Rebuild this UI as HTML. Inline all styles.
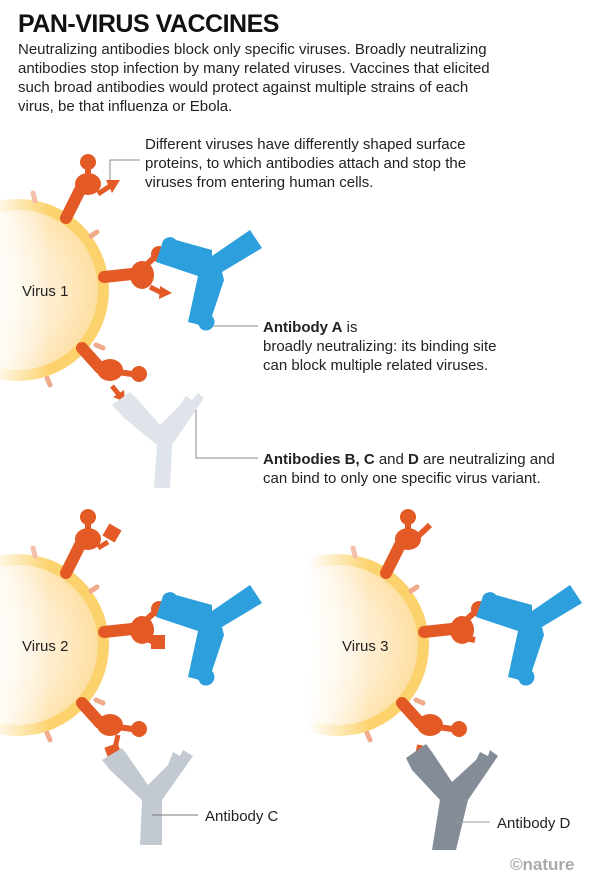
<!DOCTYPE html>
<html><head><meta charset="utf-8"><style>
html,body{margin:0;padding:0;background:#fff;}
svg{display:block;font-family:"Liberation Sans",sans-serif;}
</style></head><body>
<svg width="600" height="883" viewBox="0 0 600 883" xmlns="http://www.w3.org/2000/svg">
<defs>
<radialGradient id="vg" cx="0.3" cy="0.5" r="0.75">
<stop offset="0" stop-color="#fffaf0"/><stop offset="0.6" stop-color="#feeccb"/><stop offset="1" stop-color="#fddc98"/>
</radialGradient>
<linearGradient id="fadeG" gradientUnits="userSpaceOnUse" x1="-12" y1="0" x2="50" y2="0">
<stop offset="0" stop-color="#000"/><stop offset="1" stop-color="#fff"/>
</linearGradient>
<mask id="fade" maskUnits="userSpaceOnUse" x="-100" y="-150" width="300" height="300">
<rect x="-100" y="-150" width="300" height="300" fill="url(#fadeG)"/>
</mask>
<g id="virus">
<g mask="url(#fade)">
<circle cx="18" cy="0" r="91" fill="#fcd26c"/>
<circle cx="18" cy="0" r="80" fill="url(#vg)"/>
<g stroke="#f0a98a" stroke-width="5" stroke-linecap="round">
<line x1="33" y1="-97" x2="35" y2="-89"/>
<line x1="91" y1="-54" x2="97" y2="-58"/>
<line x1="96" y1="55" x2="103" y2="58"/>
<line x1="47" y1="88" x2="50" y2="95"/>
</g>
</g>
<g fill="#e35a27" stroke="#e35a27" stroke-linecap="round">
<line x1="66" y1="-72" x2="80" y2="-100" stroke-width="12"/>
<ellipse cx="88" cy="-106" rx="13" ry="11" stroke="none"/>
<line x1="88" y1="-112" x2="88" y2="-125" stroke-width="6"/>
<circle cx="88" cy="-128" r="8" stroke="none"/>
<line x1="104" y1="-13" x2="132" y2="-16" stroke-width="12"/>
<ellipse cx="142" cy="-15" rx="12" ry="14" stroke="none"/>
<line x1="146" y1="-25" x2="155" y2="-33" stroke-width="6"/>
<circle cx="159" cy="-36" r="8" stroke="none"/>
<line x1="82" y1="58" x2="100" y2="78" stroke-width="12"/>
<ellipse cx="110" cy="80" rx="13" ry="11" stroke="none"/>
<line x1="118" y1="82" x2="132" y2="84" stroke-width="6"/>
<circle cx="139" cy="84" r="8" stroke="none"/>
</g>
</g>
<g id="abA">
<path d="M162,244 A8,8 0 0 1 176,240 L212,250 L212,256 L250,230 L262,248 L222,272 L224,280 L212,316 A7,7 0 0 1 200,328 A5,5 0 0 0 196,324 L188,322 L198,276 L156,262 Z" fill="#2d9fdd"/>
</g>
</defs>

<text x="18" y="32" font-size="25" font-weight="bold" fill="#111" letter-spacing="-0.5">PAN-VIRUS VACCINES</text>
<g font-size="15" fill="#222">
<text x="18" y="54">Neutralizing antibodies block only specific viruses. Broadly neutralizing</text>
<text x="18" y="73">antibodies stop infection by many related viruses. Vaccines that elicited</text>
<text x="18" y="92">such broad antibodies would protect against multiple strains of each</text>
<text x="18" y="111">virus, be that influenza or Ebola.</text>
<text x="145" y="149">Different viruses have differently shaped surface</text>
<text x="145" y="168">proteins, to which antibodies attach and stop the</text>
<text x="145" y="187">viruses from entering human cells.</text>
<text x="263" y="332"><tspan font-weight="bold">Antibody A</tspan> is</text>
<text x="263" y="351">broadly neutralizing: its binding site</text>
<text x="263" y="370">can block multiple related viruses.</text>
<text x="263" y="464"><tspan font-weight="bold">Antibodies B, C</tspan> and <tspan font-weight="bold">D</tspan> are neutralizing and</text>
<text x="263" y="483">can bind to only one specific virus variant.</text>
</g>

<use href="#virus" transform="translate(0,290)"/>
<g fill="#e35a27" stroke="#e35a27" stroke-width="5">
<line x1="98" y1="194" x2="110" y2="186"/><polygon points="106,180 120,180 112,193" stroke="none"/>
<line x1="150" y1="287" x2="162" y2="293"/><polygon points="160,286 172,293 159,299" stroke="none"/>
<line x1="112" y1="386" x2="120" y2="396"/><polygon points="113,397 125,402 124,390" stroke="none"/>
</g>
<use href="#abA"/>
<path d="M112,405 L130,392 L140,402 L160,425 L180,405 L186,396 L192,400 L198,393 L204,398 L172,445 L170,488 L154,488 L157,445 L124,418 Z" fill="#dfe3ea"/>
<g stroke="#888" stroke-width="1" fill="none">
<polyline points="110,180 110,160 140,160"/>
<line x1="214" y1="326" x2="258" y2="326"/>
<polyline points="196,410 196,458 258,458"/>
</g>
<text x="22" y="296" font-size="15" fill="#222">Virus 1</text>

<use href="#virus" transform="translate(0,645)"/>
<g fill="#e35a27" stroke="#e35a27" stroke-width="5">
<line x1="98" y1="548" x2="108" y2="542"/><rect x="105" y="526" width="14" height="14" transform="rotate(30 112 533)" stroke="none"/>
<line x1="148" y1="640" x2="155" y2="643"/><rect x="151" y="635" width="14" height="14" stroke="none"/>
<line x1="118" y1="735" x2="115" y2="748"/><rect x="106" y="745" width="14" height="13" transform="rotate(-20 113 751)" stroke="none"/>
</g>
<use href="#abA" transform="translate(0,355)"/>
<path d="M102,760 L122,748 L128,756 L148,785 L168,765 L173,752 L180,756 L183,750 L193,756 L162,800 L162,845 L140,845 L142,800 L110,770 Z" fill="#c3c9d1"/>
<line x1="152" y1="815" x2="198" y2="815" stroke="#777" stroke-width="1"/>
<text x="22" y="651" font-size="15" fill="#222">Virus 2</text>
<text x="205" y="821" font-size="15" fill="#222">Antibody C</text>

<use href="#virus" transform="translate(320,645)"/>
<g fill="#e35a27" stroke="#e35a27">
<line x1="412" y1="542" x2="430" y2="525" stroke-width="6"/>
<line x1="460" y1="637" x2="475" y2="640" stroke-width="6"/>
<line x1="420" y1="745" x2="418" y2="757" stroke-width="6"/>
</g>
<use href="#abA" transform="translate(320,355)"/>
<path d="M406,758 L426,744 L432,752 L452,782 L476,760 L480,752 L488,756 L490,750 L498,756 L468,800 L456,850 L432,850 L440,800 L412,770 Z" fill="#848c97"/>
<line x1="452" y1="822" x2="490" y2="822" stroke="#999" stroke-width="1"/>
<text x="342" y="651" font-size="15" fill="#222">Virus 3</text>
<text x="497" y="828" font-size="15" fill="#222">Antibody D</text>
<text x="510" y="870" font-size="17" font-weight="bold" fill="#aaa">©nature</text>
</svg>
</body></html>
